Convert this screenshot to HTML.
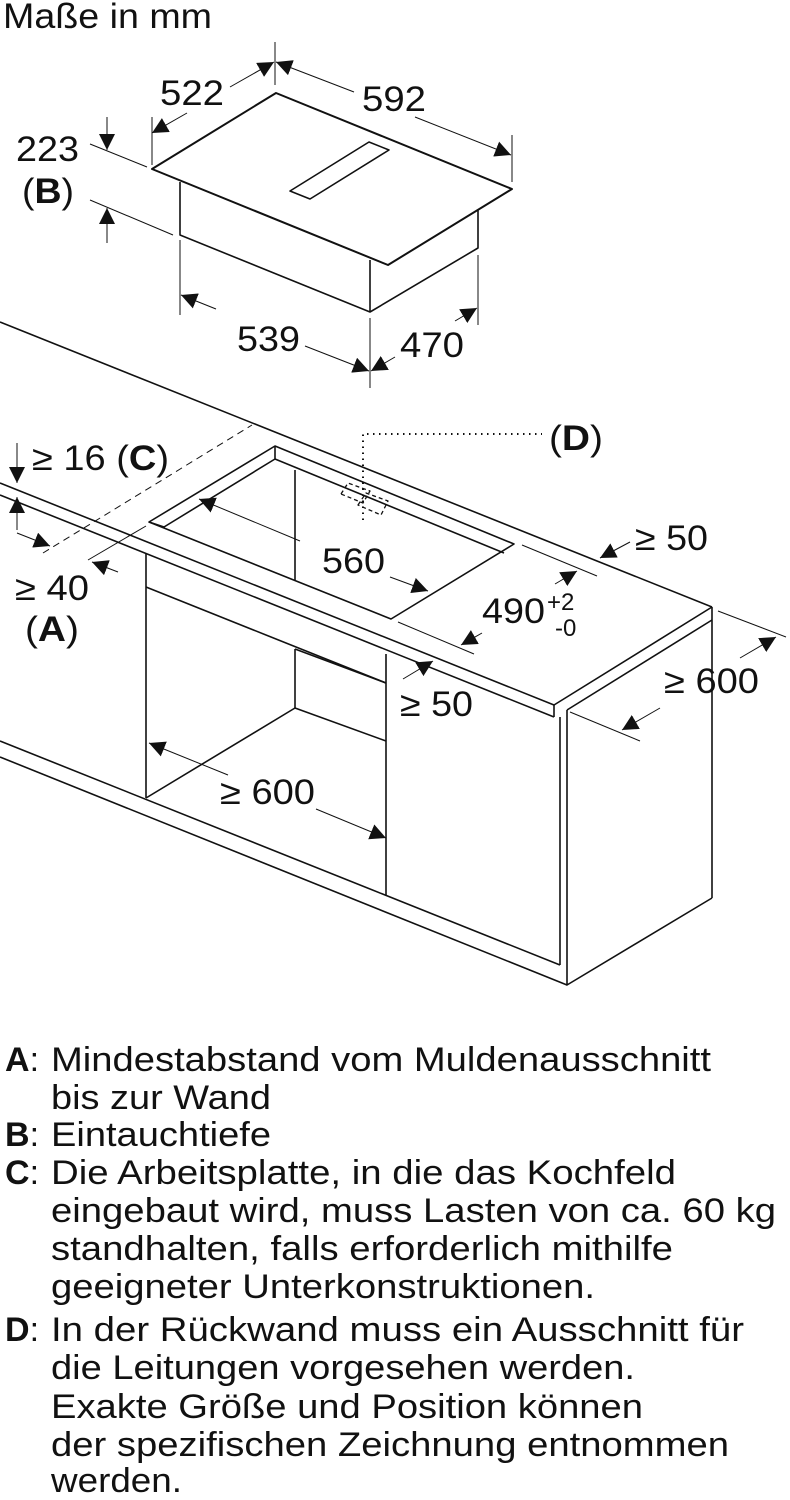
<!DOCTYPE html>
<html><head><meta charset="utf-8"><style>
html,body{margin:0;padding:0;background:#fff;}
svg{display:block;}
text{font-family:"Liberation Sans",sans-serif;fill:#111;}
</style></head><body>
<svg width="790" height="1500" viewBox="0 0 790 1500" xmlns="http://www.w3.org/2000/svg">
<defs>
<marker id="a" viewBox="0 0 10 10" refX="10" refY="5" markerWidth="16" markerHeight="16" markerUnits="userSpaceOnUse" orient="auto-start-reverse">
<path d="M0,0 L10,5 L0,10 z" fill="#111"/></marker>
</defs>
<g stroke="#111" stroke-width="1.6" fill="none" stroke-linejoin="round">
<polygon points="152,169 276,93 512,189 388,265" stroke-width="2"/>
<polygon points="290,191 369,142 389,150 310,199"/>
<polyline points="180,182 180,235 370,312 478,248 478,210"/>
<line x1="370" y1="260" x2="370" y2="312"/>
<line x1="152" y1="117" x2="152" y2="165" stroke-width="1"/>
<line x1="275" y1="42" x2="275" y2="85" stroke-width="1"/>
<line x1="512" y1="135" x2="512" y2="182" stroke-width="1"/>
<line x1="187" y1="113" x2="152" y2="133" stroke-width="1" marker-end="url(#a)"/>
<line x1="230" y1="87" x2="274" y2="62" stroke-width="1" marker-end="url(#a)"/>
<line x1="354" y1="92" x2="276" y2="62" stroke-width="1" marker-end="url(#a)"/>
<line x1="415" y1="117" x2="511" y2="155" stroke-width="1" marker-end="url(#a)"/>
<line x1="90" y1="144" x2="147" y2="167" stroke-width="1"/>
<line x1="90" y1="200" x2="173" y2="235" stroke-width="1"/>
<line x1="107" y1="117" x2="107" y2="150" stroke-width="1" marker-end="url(#a)"/>
<line x1="107" y1="243" x2="107" y2="208" stroke-width="1" marker-end="url(#a)"/>
<line x1="180" y1="240" x2="180" y2="315" stroke-width="1"/>
<line x1="370" y1="318" x2="370" y2="388" stroke-width="1"/>
<line x1="478" y1="255" x2="478" y2="325" stroke-width="1"/>
<line x1="216" y1="309" x2="181" y2="295" stroke-width="1" marker-end="url(#a)"/>
<line x1="305" y1="346" x2="369" y2="371" stroke-width="1" marker-end="url(#a)"/>
<line x1="395" y1="357" x2="371" y2="371" stroke-width="1" marker-end="url(#a)"/>
<line x1="455" y1="321" x2="477" y2="308" stroke-width="1" marker-end="url(#a)"/>
<line x1="0" y1="322" x2="712" y2="607"/>
<line x1="0" y1="483" x2="554" y2="705"/>
<line x1="0" y1="495" x2="554" y2="717"/>
<line x1="554" y1="705" x2="554" y2="717"/>
<line x1="554" y1="705" x2="712" y2="607"/>
<line x1="567" y1="710" x2="712" y2="620"/>
<line x1="712" y1="607" x2="712" y2="898"/>
<polyline points="712,898 567,985 567,710"/>
<line x1="560" y1="717" x2="560" y2="965"/>
<line x1="0" y1="741" x2="560" y2="965"/>
<line x1="0" y1="757" x2="567" y2="985"/>
<line x1="146" y1="553" x2="146" y2="798"/>
<line x1="146" y1="587" x2="386" y2="683"/>
<line x1="386" y1="654" x2="386" y2="896"/>
<line x1="295" y1="649" x2="295" y2="708"/>
<line x1="295" y1="649" x2="386" y2="683"/>
<line x1="295" y1="708" x2="386" y2="741"/>
<line x1="295" y1="708" x2="146" y2="798"/>
<polygon points="149,522 275,446 514,544 391,619"/>
<polyline points="275,446 275,459 164,527 149,522"/>
<line x1="275" y1="459" x2="504" y2="553"/>
<line x1="295" y1="470" x2="295" y2="580"/>
<line x1="43" y1="553" x2="252" y2="425" stroke-width="1" stroke-dasharray="7,5"/>
<line x1="88" y1="560" x2="146" y2="526" stroke-width="1"/>
<polygon points="341,494 348,483 370,491 363,503" stroke-width="1.3" stroke-dasharray="4,3"/>
<polygon points="358,505 366,493 388,501 381,515" stroke-width="1.3" stroke-dasharray="4,3"/>
<polyline points="363,520 363,434 542,434" stroke-width="2" stroke-dasharray="1.5,4.5"/>
<line x1="17" y1="443" x2="17" y2="483" stroke-width="1" marker-end="url(#a)"/>
<line x1="17" y1="530" x2="17" y2="497" stroke-width="1" marker-end="url(#a)"/>
<line x1="17" y1="533" x2="50" y2="546" stroke-width="1" marker-end="url(#a)"/>
<line x1="118" y1="572" x2="92" y2="562" stroke-width="1" marker-end="url(#a)"/>
<line x1="300" y1="541" x2="199" y2="499" stroke-width="1" marker-end="url(#a)"/>
<line x1="390" y1="577" x2="428" y2="591" stroke-width="1" marker-end="url(#a)"/>
<line x1="522" y1="545" x2="597" y2="576" stroke-width="1"/>
<line x1="630" y1="542" x2="600" y2="558" stroke-width="1" marker-end="url(#a)"/>
<line x1="398" y1="622" x2="474" y2="654" stroke-width="1"/>
<line x1="482" y1="633" x2="461" y2="645" stroke-width="1" marker-end="url(#a)"/>
<line x1="555" y1="584" x2="577" y2="571" stroke-width="1" marker-end="url(#a)"/>
<line x1="403" y1="679" x2="433" y2="661" stroke-width="1" marker-end="url(#a)"/>
<line x1="718" y1="611" x2="786" y2="637" stroke-width="1"/>
<line x1="570" y1="712" x2="640" y2="741" stroke-width="1"/>
<line x1="660" y1="708" x2="622" y2="730" stroke-width="1" marker-end="url(#a)"/>
<line x1="740" y1="658" x2="776" y2="637" stroke-width="1" marker-end="url(#a)"/>
<line x1="228" y1="775" x2="149" y2="743" stroke-width="1" marker-end="url(#a)"/>
<line x1="316" y1="809" x2="386" y2="838" stroke-width="1" marker-end="url(#a)"/>
</g>
<g font-size="35">
<text x="3" y="28" textLength="209" lengthAdjust="spacingAndGlyphs">Maße in mm</text>
<text x="160" y="105" textLength="64" lengthAdjust="spacingAndGlyphs">522</text>
<text x="362" y="111" textLength="64" lengthAdjust="spacingAndGlyphs">592</text>
<text x="16" y="161" textLength="63" lengthAdjust="spacingAndGlyphs">223</text>
<text x="22" y="203" textLength="52" lengthAdjust="spacingAndGlyphs">(<tspan font-weight="bold">B</tspan>)</text>
<text x="237" y="351" textLength="63" lengthAdjust="spacingAndGlyphs">539</text>
<text x="400" y="357" textLength="64" lengthAdjust="spacingAndGlyphs">470</text>
<text x="549" y="450" textLength="54" lengthAdjust="spacingAndGlyphs">(<tspan font-weight="bold">D</tspan>)</text>
<text x="32" y="470" textLength="137" lengthAdjust="spacingAndGlyphs">≥ 16 (<tspan font-weight="bold">C</tspan>)</text>
<text x="322" y="573" textLength="63" lengthAdjust="spacingAndGlyphs">560</text>
<text x="635" y="550" textLength="73" lengthAdjust="spacingAndGlyphs">≥ 50</text>
<text x="482" y="623" textLength="63" lengthAdjust="spacingAndGlyphs">490</text>
<text x="547" y="610" font-size="24">+2</text>
<text x="555" y="636" font-size="24">-0</text>
<text x="15" y="600" textLength="74" lengthAdjust="spacingAndGlyphs">≥ 40</text>
<text x="25" y="641" textLength="54" lengthAdjust="spacingAndGlyphs">(<tspan font-weight="bold">A</tspan>)</text>
<text x="400" y="716" textLength="73" lengthAdjust="spacingAndGlyphs">≥ 50</text>
<text x="664" y="693" textLength="95" lengthAdjust="spacingAndGlyphs">≥ 600</text>
<text x="220" y="804" textLength="95" lengthAdjust="spacingAndGlyphs">≥ 600</text>
</g>
<g font-size="34">
<text x="5" y="1071"><tspan font-weight="bold">A</tspan>:</text>
<text x="51" y="1071" textLength="660" lengthAdjust="spacingAndGlyphs">Mindestabstand vom Muldenausschnitt</text>
<text x="51" y="1109" textLength="220" lengthAdjust="spacingAndGlyphs">bis zur Wand</text>
<text x="5" y="1146"><tspan font-weight="bold">B</tspan>:</text>
<text x="51" y="1146" textLength="220" lengthAdjust="spacingAndGlyphs">Eintauchtiefe</text>
<text x="5" y="1184"><tspan font-weight="bold">C</tspan>:</text>
<text x="51" y="1184" textLength="625" lengthAdjust="spacingAndGlyphs">Die Arbeitsplatte, in die das Kochfeld</text>
<text x="51" y="1222" textLength="725" lengthAdjust="spacingAndGlyphs">eingebaut wird, muss Lasten von ca. 60 kg</text>
<text x="51" y="1260" textLength="622" lengthAdjust="spacingAndGlyphs">standhalten, falls erforderlich mithilfe</text>
<text x="51" y="1298" textLength="544" lengthAdjust="spacingAndGlyphs">geeigneter Unterkonstruktionen.</text>
<text x="5" y="1341"><tspan font-weight="bold">D</tspan>:</text>
<text x="51" y="1341" textLength="693" lengthAdjust="spacingAndGlyphs">In der Rückwand muss ein Ausschnitt für</text>
<text x="51" y="1379" textLength="584" lengthAdjust="spacingAndGlyphs">die Leitungen vorgesehen werden.</text>
<text x="51" y="1418" textLength="592" lengthAdjust="spacingAndGlyphs">Exakte Größe und Position können</text>
<text x="51" y="1456" textLength="678" lengthAdjust="spacingAndGlyphs">der spezifischen Zeichnung entnommen</text>
<text x="51" y="1492" textLength="131" lengthAdjust="spacingAndGlyphs">werden.</text>
</g>
</svg>
</body></html>
